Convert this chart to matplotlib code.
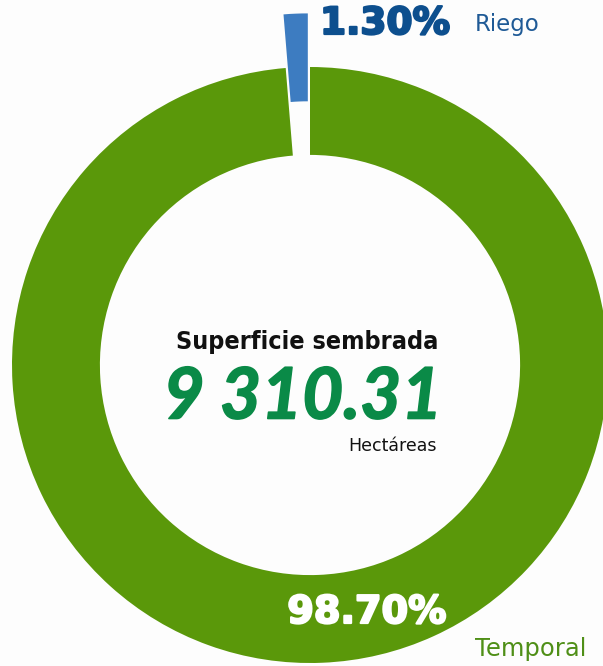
import matplotlib
matplotlib.use("Agg")
import matplotlib.pyplot as plt
import matplotlib.patheffects as pe

# Data
categories = ["Riego", "Temporal"]
shares = [1.30, 98.70]
share_labels = ["1.30%", "98.70%"]
total_label = "9 310.31"
title_label = "Superficie sembrada"
unit_label = "Hectáreas"

colors = ["#3d7cc1", "#5a980a"]

W, H = 603, 666
R_PX = 298.0
CX, CY = 310.0, 365.0

fig = plt.figure(figsize=(W / 100, H / 100), dpi=100)
fig.patch.set_facecolor("#fdfdfd")
ax = fig.add_axes([0, 0, 1, 1])
ax.set_facecolor("#fdfdfd")

ax.pie(shares, colors=colors, startangle=90, counterclock=True,
       explode=[0.18, 0], radius=1.0,
       wedgeprops=dict(width=0.295, linewidth=0))

ax.set_xlim(-CX / R_PX, (W - CX) / R_PX)
ax.set_ylim(-(H - CY) / R_PX, CY / R_PX)
ax.set_aspect("equal")
ax.axis("off")

def px(x, y):
    return ((x - CX) / R_PX, (CY - y) / R_PX)

def heavy(color, lw=1.6):
    return [pe.withStroke(linewidth=lw, foreground=color)]

DJ = ["DejaVu Sans"]

# Labels
ax.text(*px(320, 24), share_labels[0], ha="left", va="center",
        fontsize=27, fontweight="bold", family=DJ, color="#0d4f8e",
        path_effects=heavy("#0d4f8e"))
ax.text(*px(475, 24), categories[0], ha="left", va="center",
        fontsize=16.5, family=DJ, color="#1f5a96")
ax.text(*px(367, 613), share_labels[1], ha="center", va="center",
        fontsize=27.5, fontweight="bold", family=DJ, color="white",
        path_effects=heavy("white"))
ax.text(*px(531, 649), categories[1], ha="center", va="center",
        fontsize=17.5, family=DJ, color="#4f8f17")

# Centre text
ax.text(*px(307, 342), title_label, ha="center", va="center",
        fontsize=18, fontweight="bold", fontstretch="condensed",
        family=DJ, color="#111111")
ax.text(*px(303, 398), total_label, ha="center", va="center",
        fontsize=51, fontweight="bold", style="italic", family=["Lato", "DejaVu Sans"],
        color="#0a8a47", path_effects=heavy("#0a8a47", 1.2))
ax.text(*px(437, 446), unit_label, ha="right", va="center",
        fontsize=12.5, family=DJ, color="#111111")

fig.savefig("out.png", dpi=100, facecolor=fig.get_facecolor())
